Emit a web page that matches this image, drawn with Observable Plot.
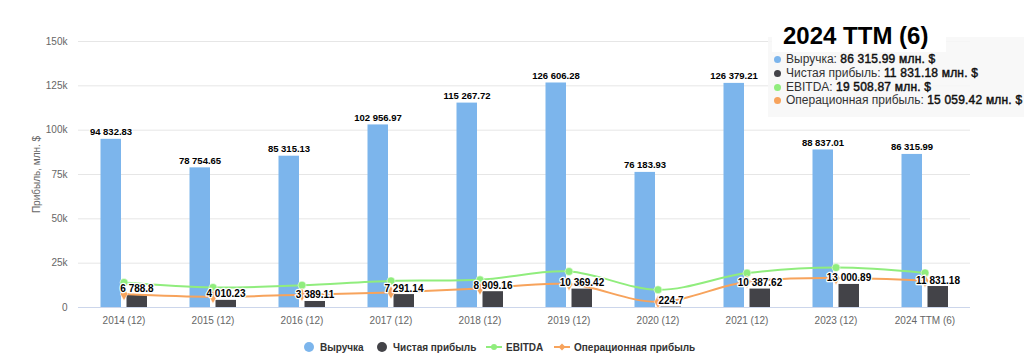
<!DOCTYPE html>
<html><head><meta charset="utf-8">
<script src="https://cdn.jsdelivr.net/npm/d3@7"></script>
<script src="https://cdn.jsdelivr.net/npm/@observablehq/plot@0.6"></script>
<style>
body{margin:0;background:#fff;font-family:"Liberation Sans",Arial,sans-serif;}
#wrap{position:relative;width:1024px;height:360px;overflow:hidden;}
#legend{position:absolute;top:338px;left:0;width:1024px;height:20px;font-size:10px;font-weight:bold;color:#333;}
.li{position:absolute;top:0;height:18px;display:flex;align-items:center;white-space:nowrap;}
.sw{display:inline-block;width:10px;height:10px;border-radius:50%;margin-right:6px;}
#tipbox{position:absolute;left:768px;top:37px;width:262px;height:80px;background:rgba(247,247,247,0.88);}
#tiphead{position:absolute;left:772px;top:18px;width:174px;height:34px;background:rgba(255,255,255,0.95);}
#tiptitle{position:absolute;left:783px;top:22px;font-size:24px;font-weight:bold;color:#000;white-space:nowrap;}
#tiplines{position:absolute;left:774px;top:53px;font-size:12px;color:#333;line-height:13.8px;white-space:nowrap;}
#tiplines b{color:#111;font-weight:normal;-webkit-text-stroke:0.45px #111;letter-spacing:0.2px;}
.dot{display:inline-block;width:7px;height:7px;border-radius:50%;margin-right:5px;vertical-align:0px;}
</style></head>
<body><div id="wrap"><div id="chart"></div>
<div id="tipbox"></div><div id="tiphead"></div><div id="tiptitle"></div><div id="tiplines"></div>
<div id="legend"></div></div>
<script>
const categories = ["2014 (12)","2015 (12)","2016 (12)","2017 (12)","2018 (12)","2019 (12)","2020 (12)","2021 (12)","2023 (12)","2024 TTM (6)"];
const revenue = [94832.83, 78754.65, 85315.13, 102956.97, 115267.72, 126606.28, 76183.93, 126379.21, 88837.01, 86315.99];
const netProfit = [6788.8, 4010.23, 3389.11, 7291.14, 8909.16, 10369.42, 224.7, 10387.62, 13000.89, 11831.18];
const ebitda = [14100, 11300, 12600, 15000, 15600, 20300, 10000, 19400, 22500, 19508.87];
const opProfit = [7600, 6000, 7200, 8500, 10700, 13200, 3200, 14500, 16600, 15059.42];
const yTicks = [0, 25000, 50000, 75000, 100000, 125000, 150000];
const seriesNames = ["Выручка", "Чистая прибыль", "EBITDA", "Операционная прибыль"];
const colors = ["#7cb5ec", "#434348", "#90ed7d", "#f7a35c"];
const yTitle = "Прибыль, млн. $";
const tipTitle = "2024 TTM (6)";
const unit = "млн. $";

const data = categories.map((c, i) => ({cat: c, revenue: revenue[i], net: netProfit[i], ebitda: ebitda[i], op: opProfit[i]}));
const fmt = v => { const [a, b] = String(v).split("."); return a.replace(/\B(?=(\d{3})+(?!\d))/g, " ") + (b ? "." + b : ""); };
const fmt2 = v => { const [a, b] = v.toFixed(2).split("."); return a.replace(/\B(?=(\d{3})+(?!\d))/g, " ") + "." + b; };

const chart = Plot.plot({
  width: 1024, height: 335,
  marginLeft: 78, marginRight: 54, marginTop: 41, marginBottom: 28,
  style: {fontFamily: "'Liberation Sans', Arial, sans-serif", fontSize: "10px", color: "#666", background: "white"},
  x: {type: "band", domain: categories, padding: 0, label: null},
  y: {domain: [0, 150000], label: null},
  marks: [
    Plot.gridY(yTicks, {stroke: "#e6e6e6", strokeOpacity: 1}),
    Plot.axisY(yTicks, {tickSize: 0, tickPadding: 11, tickFormat: d => d === 0 ? "0" : (d / 1000) + "k",
      label: yTitle, labelAnchor: "center", labelOffset: 46, labelArrow: "none", fontSize: 10}),
    Plot.axisX({tickSize: 0, tickPadding: 9, label: null, fontSize: 10}),
    Plot.ruleY([0], {stroke: "#ccd6eb"}),
    Plot.barY(data, {x: "cat", y: "revenue", fill: colors[0], insetLeft: 21.5, insetRight: 47}),
    Plot.barY(data, {x: "cat", y: "net", fill: colors[1], insetLeft: 47.5, insetRight: 21}),
    Plot.line(data, {x: "cat", y: "ebitda", stroke: colors[2], strokeWidth: 2, curve: "catmull-rom"}),
    Plot.line(data, {x: "cat", y: "op", stroke: colors[3], strokeWidth: 2, curve: "catmull-rom"}),
    Plot.dot(data, {x: "cat", y: "ebitda", fill: colors[2], r: 4, stroke: "white", strokeWidth: 0.5}),
    Plot.dot(data, {x: "cat", y: "op", fill: colors[3], r: 4, symbol: "diamond", stroke: "white", strokeWidth: 0.5}),
    Plot.text(data, {x: "cat", y: "revenue", text: d => fmt(d.revenue), dx: -13, dy: -4, lineAnchor: "bottom",
      fontWeight: "bold", fontSize: 9.5, fill: "#000", stroke: "white", strokeWidth: 2.5}),
    Plot.text(data, {x: "cat", y: "net", text: d => fmt(d.net), dx: 13, dy: -3, lineAnchor: "bottom",
      fontWeight: "bold", fontSize: 10, fill: "#000", stroke: "white", strokeWidth: 2.5})
  ]
});
document.getElementById("chart").appendChild(chart);

// tooltip
document.getElementById("tiptitle").textContent = tipTitle;
const last = data.length - 1;
const tipVals = [revenue[last], netProfit[last], ebitda[last], opProfit[last]];
document.getElementById("tiplines").innerHTML = seriesNames.map((n, i) =>
  `<div><span class="dot" style="background:${colors[i]}"></span>${n}: <b>${fmt2(tipVals[i])} ${unit}</b></div>`).join("");

// legend
const lg = document.getElementById("legend");
const lefts = [304, 377, 486, 554];
seriesNames.forEach((n, i) => {
  const d = document.createElement("div");
  d.className = "li";
  d.style.left = lefts[i] + "px";
  if (i < 2) {
    d.innerHTML = `<span class="sw" style="background:${colors[i]}"></span>${n}`;
  } else {
    const sym = i === 2
      ? `<circle cx="8" cy="5" r="3" fill="${colors[i]}"/>`
      : `<path d="M8 1.5 L11.5 5 L8 8.5 L4.5 5Z" fill="${colors[i]}"/>`;
    d.innerHTML = `<svg width="16" height="10" style="margin-right:4px"><line x1="0" y1="5" x2="16" y2="5" stroke="${colors[i]}" stroke-width="2"/>${sym}</svg>${n}`;
  }
  lg.appendChild(d);
});
</script></body></html>
